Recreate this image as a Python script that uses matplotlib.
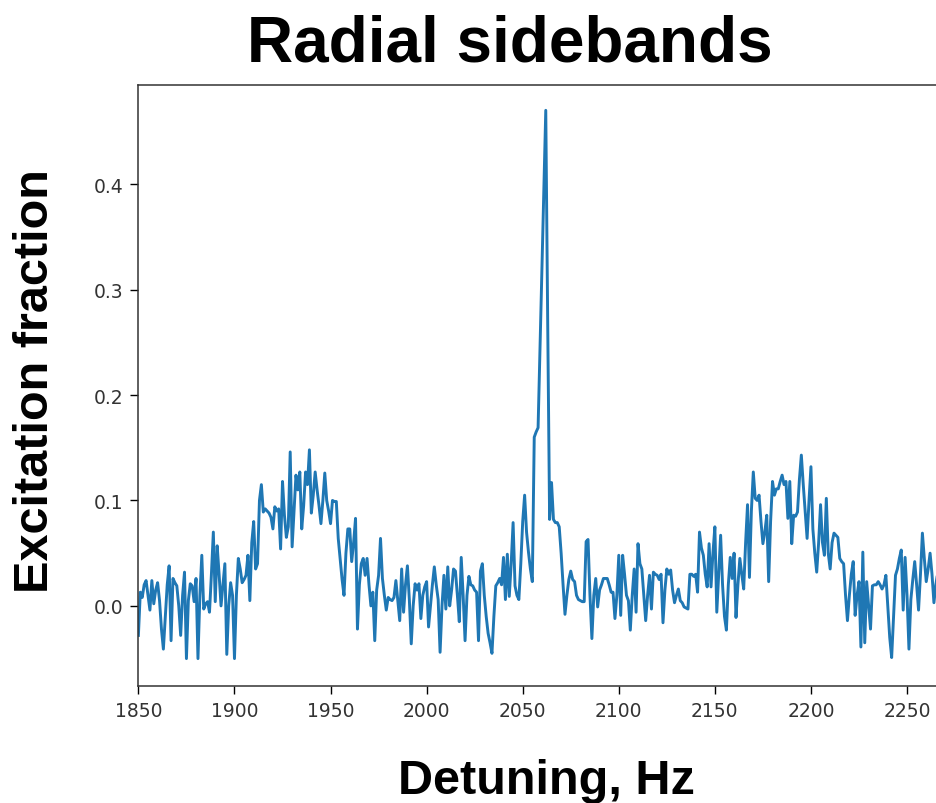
import numpy as np
from matplotlib import pyplot as plt

# excitation fraction measured every 1 Hz starting at 1850 Hz
excitation = [
    -0.028, 0.013, 0.008, 0.020, 0.024, 0.010, -0.004, 0.024, 0.002, 0.015,
    0.022, 0.005, -0.022, -0.041, -0.010, 0.020, 0.038, -0.033, 0.026, 0.022,
    0.019, 0.000, -0.028, 0.010, 0.032, -0.050, 0.005, 0.021, 0.019, 0.004,
    0.026, -0.050, 0.010, 0.048, -0.003, 0.002, 0.004, -0.006, 0.030, 0.070,
    0.004, 0.057, 0.030, 0.000, 0.020, 0.040, -0.046, 0.000, 0.022, 0.010,
    -0.050, 0.010, 0.045, 0.035, 0.022, 0.025, 0.029, 0.048, 0.005, 0.060,
    0.080, 0.035, 0.040, 0.100, 0.115, 0.089, 0.092, 0.090, 0.088, 0.084,
    0.073, 0.094, 0.090, 0.092, 0.054, 0.118, 0.086, 0.065, 0.075, 0.146,
    0.056, 0.090, 0.124, 0.110, 0.127, 0.073, 0.095, 0.127, 0.115, 0.148,
    0.088, 0.105, 0.127, 0.110, 0.095, 0.078, 0.100, 0.126, 0.100, 0.090,
    0.078, 0.100, 0.099, 0.099, 0.064, 0.045, 0.025, 0.010, 0.050, 0.073,
    0.073, 0.042, 0.060, 0.083, -0.022, 0.020, 0.040, 0.045, 0.029, 0.045,
    0.020, 0.000, 0.013, -0.033, 0.015, 0.029, 0.064, 0.026, 0.010, -0.004,
    0.008, 0.006, 0.005, 0.008, 0.024, 0.005, -0.014, 0.035, -0.006, 0.020,
    0.038, 0.006, -0.036, 0.000, 0.021, 0.015, 0.021, -0.012, 0.010, 0.018,
    0.023, -0.020, 0.000, 0.020, 0.037, 0.020, 0.006, -0.044, 0.000, 0.029,
    -0.003, 0.037, 0.000, 0.015, 0.035, 0.033, 0.010, -0.015, 0.046, 0.010,
    -0.033, 0.010, 0.028, 0.020, 0.019, 0.015, 0.013, -0.033, 0.033, 0.040,
    0.010, -0.010, -0.026, -0.035, -0.045, -0.010, 0.019, 0.022, 0.026, 0.020,
    0.046, 0.006, 0.049, 0.009, 0.040, 0.079, 0.019, 0.010, 0.006, 0.040,
    0.080, 0.105, 0.070, 0.051, 0.035, 0.023, 0.160, 0.165, 0.169, 0.245,
    0.320, 0.395, 0.470, 0.270, 0.082, 0.117, 0.082, 0.079, 0.079, 0.075,
    0.050, 0.020, -0.008, 0.010, 0.025, 0.033, 0.025, 0.023, 0.010, 0.006,
    0.005, 0.004, 0.004, 0.061, 0.063, 0.010, -0.031, 0.010, 0.026, -0.001,
    0.015, 0.020, 0.026, 0.026, 0.026, 0.020, 0.013, 0.013, -0.012, 0.010,
    0.048, -0.009, 0.048, 0.030, 0.010, 0.005, -0.023, 0.010, 0.035, -0.006,
    0.059, 0.040, 0.035, 0.010, -0.014, 0.010, 0.029, -0.003, 0.032, 0.030,
    0.029, 0.025, 0.030, -0.016, 0.015, 0.035, 0.030, 0.034, 0.015, 0.003,
    0.010, 0.016, 0.005, 0.003, -0.001, -0.002, -0.003, 0.030, 0.030, 0.028,
    0.030, 0.013, 0.070, 0.055, 0.048, 0.030, 0.018, 0.059, 0.018, 0.050,
    0.075, -0.006, 0.030, 0.067, 0.020, -0.010, -0.023, 0.020, 0.046, 0.026,
    0.050, -0.011, 0.020, 0.045, 0.030, 0.016, 0.060, 0.096, 0.027, 0.090,
    0.127, 0.102, 0.100, 0.105, 0.080, 0.059, 0.070, 0.086, 0.023, 0.080,
    0.118, 0.105, 0.111, 0.111, 0.118, 0.124, 0.115, 0.118, 0.083, 0.118,
    0.059, 0.086, 0.085, 0.089, 0.120, 0.143, 0.115, 0.090, 0.064, 0.100,
    0.132, 0.073, 0.050, 0.032, 0.060, 0.096, 0.060, 0.048, 0.102, 0.050,
    0.035, 0.060, 0.069, 0.067, 0.065, 0.045, 0.042, 0.040, 0.010, -0.014,
    0.010, 0.030, 0.042, -0.009, 0.010, 0.023, -0.039, 0.051, -0.035, 0.023,
    0.000, -0.022, 0.019, 0.020, 0.020, 0.023, 0.020, 0.016, 0.020, 0.029,
    0.000, -0.030, -0.049, -0.010, 0.029, 0.035, 0.045, 0.053, -0.004, 0.046,
    0.010, -0.041, 0.006, 0.025, 0.042, 0.020, -0.004, 0.030, 0.069, 0.045,
    0.023, 0.035, 0.050, 0.030, 0.003, 0.020, 0.032, 0.030, 0.025,
]
start_hz = 1850
detuning = np.arange(start_hz, start_hz + len(excitation))

xticks = [1850, 1900, 1950, 2000, 2050, 2100, 2150, 2200, 2250]
yticks = [0.0, 0.1, 0.2, 0.3, 0.4]

fig = plt.figure(figsize=(9.37, 8.04), dpi=100)
ax = fig.add_axes([0.1477, 0.1455, 0.8523, 0.7475])

ax.plot(detuning, excitation, color='#1f77b4', lw=2.1)

ax.set_xlim(1850, 2265.6)
ax.set_ylim(-0.076, 0.494)
ax.set_xticks(xticks)
ax.set_yticks(yticks)
ax.set_yticklabels(['%.1f' % t for t in yticks])
ax.tick_params(labelsize=13.5, labelcolor='#333333', length=6, width=1, pad=5)
ax.spines['right'].set_visible(False)
for s in ['left', 'top', 'bottom']:
    ax.spines[s].set_linewidth(1.1)
    ax.spines[s].set_color('#333333')

big = dict(family='Liberation Sans', weight='bold', color='black')
fig.text(510 / 937, 1 - 62 / 804, 'Radial sidebands', fontsize=46,
         ha='center', va='baseline', **big)
fig.text(36 / 937, 1 - 381 / 804, 'Excitation fraction', fontsize=35,
         rotation=90, ha='center', va='center', **big)
fig.text(546 / 937, 1 - 794 / 804, 'Detuning, Hz', fontsize=35,
         ha='center', va='baseline', **big)

fig.savefig('out.png', dpi=100)
